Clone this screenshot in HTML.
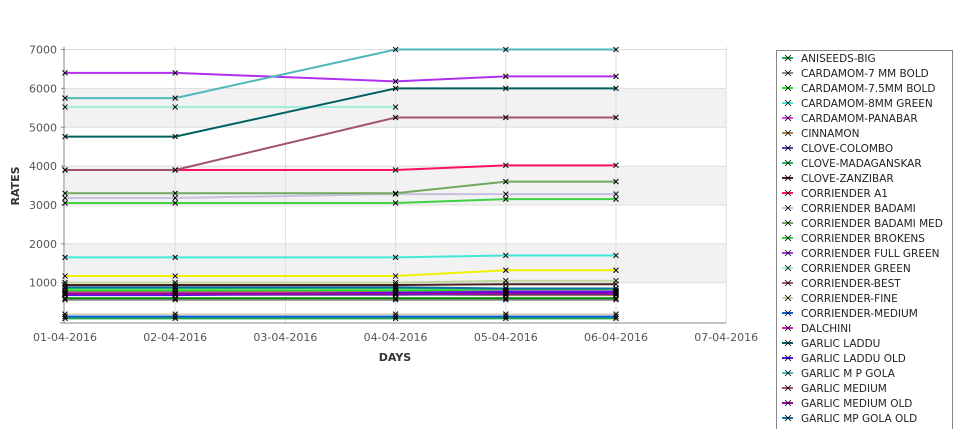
<!DOCTYPE html>
<html><head><meta charset="utf-8">
<style>
html,body{margin:0;padding:0;background:#fff;}
body{width:975px;height:429px;overflow:hidden;font-family:"Liberation Sans","DejaVu Sans",sans-serif;}
svg text{font-family:"DejaVu Sans","Liberation Sans",sans-serif;}
</style></head>
<body>
<svg id="chart" width="975" height="429" xmlns="http://www.w3.org/2000/svg"></svg>
<script>
const categories = ["01-04-2016","02-04-2016","03-04-2016","04-04-2016","05-04-2016","06-04-2016","07-04-2016"];
const pointDays = [0,1,3,4,5];
const yTicks = [1000,2000,3000,4000,5000,6000,7000];
const seriesNames = ["ANISEEDS-BIG","CARDAMOM-7 MM BOLD","CARDAMOM-7.5MM BOLD","CARDAMOM-8MM GREEN","CARDAMOM-PANABAR","CINNAMON","CLOVE-COLOMBO","CLOVE-MADAGANSKAR","CLOVE-ZANZIBAR","CORRIENDER A1","CORRIENDER BADAMI","CORRIENDER BADAMI MED","CORRIENDER BROKENS","CORRIENDER FULL GREEN","CORRIENDER GREEN","CORRIENDER-BEST","CORRIENDER-FINE","CORRIENDER-MEDIUM","DALCHINI","GARLIC LADDU","GARLIC LADDU OLD","GARLIC M P GOLA","GARLIC MEDIUM","GARLIC MEDIUM OLD","GARLIC MP GOLA OLD","JEERA","KALONJI","METHI"];
const seriesColors = ["#1fa84a","#8a8a8a","#22dd22","#40e8d8","#e040e0","#b08840","#5040b0","#20c060","#4a2020","#ff1060","#c8c0e0","#70a860","#40d040","#b030f0","#a0f0d8","#b05070","#c0d8a0","#1060e0","#d020c0","#006060","#5010f0","#50b8b8","#a05070","#a000a0","#1070a0","#f0f000","#008800","#e0d8c0"];
const s0=[80,80,80,80,80];
const s1=[560,560,560,560,560];
const s2=[800,800,800,800,800];
const s3=[1650,1650,1650,1700,1700];
const s4=[740,740,740,780,780];
const s5=[700,700,700,680,680];
const s6=[690,690,690,700,700];
const s7=[860,860,860,850,850];
const s8=[940,940,940,960,960];
const s9=[3900,3900,3900,4020,4020];
const s10=[3180,3180,3280,3280,3280];
const s11=[3300,3300,3300,3600,3600];
const s12=[3050,3050,3050,3150,3150];
const s13=[6400,6400,6180,6310,6310];
const s14=[5520,5520,5520,null,null];
const s15=[750,750,750,750,750];
const s16=[1000,1000,1000,1050,1050];
const s17=[130,130,130,130,130];
const s18=[720,720,720,760,760];
const s19=[4760,4760,6000,6000,6000];
const s20=[680,680,740,760,760];
const s21=[5750,5750,7000,7000,7000];
const s22=[3900,3900,5250,5250,5250];
const s23=[710,710,710,720,720];
const s24=[880,880,880,850,850];
const s25=[1170,1170,1170,1320,1320];
const s26=[600,600,600,600,600];
const s27=[190,190,190,190,190];
const seriesValues=[s0,s1,s2,s3,s4,s5,s6,s7,s8,s9,s10,s11,s12,s13,s14,s15,s16,s17,s18,s19,s20,s21,s22,s23,s24,s25,s26,s27];
const legendCount = 25;

const NS="http://www.w3.org/2000/svg";
const svg=document.getElementById('chart');
const X0=65,XSTEP=110.2,Y0=321.5,YPER=0.03885;
function xs(i){return X0+i*XSTEP;}
function ys(v){return Y0-v*YPER;}
function mk(tag,attrs,parent){const e=document.createElementNS(NS,tag);for(const k in attrs)e.setAttribute(k,attrs[k]);(parent||svg).appendChild(e);return e;}

const plotTop=ys(7070), plotBottom=323, plotRight=xs(6);
[1000,3000,5000].forEach(v=>{
  const r=mk('rect',{x:X0,y:ys(v+1000),width:plotRight-X0,height:ys(v)-ys(v+1000),fill:'#f2f2f2'});
  
  
});
yTicks.forEach(v=>{
  const l=mk('line',{x1:X0,x2:plotRight,y1:ys(v),y2:ys(v),stroke:'#dddddd','stroke-width':1});
  
  
  const t=mk('text',{x:57,y:ys(v)+4,'text-anchor':'end','font-size':11,fill:'#555'});
  t.textContent=v;
  
  
  mk('line',{x1:61,x2:65,y1:ys(v),y2:ys(v),stroke:'#888'});
});
categories.forEach((c,i)=>{
  if(i>0){const l=mk('line',{x1:xs(i),x2:xs(i),y1:plotTop,y2:plotBottom,stroke:'#dddddd','stroke-width':1});
  
  }
  const t=mk('text',{x:xs(i),y:341,'text-anchor':'middle','font-size':11,fill:'#555'});
  t.textContent=c;
  
  
});
const ya=mk('line',{x1:X0-1,x2:X0-1,y1:plotTop,y2:plotBottom,stroke:'#888'});


const xa=mk('line',{x1:60,x2:plotRight,y1:plotBottom,y2:plotBottom,stroke:'#888'});


const yt=mk('text',{x:19,y:186,'text-anchor':'middle','font-size':11,'font-weight':'bold',fill:'#333',transform:'rotate(-90 19 186)'});
yt.textContent='RATES';


const xt=mk('text',{x:395,y:361,'text-anchor':'middle','font-size':11,'font-weight':'bold',fill:'#333'});
xt.textContent='DAYS';



const markers=[];
seriesValues.forEach((vals,si)=>{
  const g=mk('g',{});
  
  
  let d='';let pen=false;
  vals.forEach((v,i)=>{
    if(v===null){pen=false;return;}
    d+=(pen?'L':'M')+xs(pointDays[i])+' '+ys(v)+' ';pen=true;
    markers.push([xs(pointDays[i]),ys(v)]);
  });
  const p=mk('path',{d:d,fill:'none',stroke:seriesColors[si],'stroke-width':2},g);
  
  
});
const mg=mk('g',{stroke:'#000','stroke-width':1});


markers.forEach(([x,y])=>{
  mk('path',{d:`M${x-2.5} ${y-2.5}L${x+2.5} ${y+2.5}M${x-2.5} ${y+2.5}L${x+2.5} ${y-2.5}`},mg);
});

const lg=mk('g',{});


mk('rect',{x:776.5,y:50.5,width:176,height:400,fill:'#fff',stroke:'#888'},lg);
for(let i=0;i<legendCount;i++){
  const y=58+i*15;
  const e=mk('g',{},lg);
  
  
  mk('line',{x1:782,x2:793,y1:y,y2:y,stroke:seriesColors[i],'stroke-width':2},e);
  mk('path',{d:`M785 ${y-3}L791 ${y+3}M785 ${y+3}L791 ${y-3}`,stroke:'#000','stroke-width':0.8},e);
  const t=mk('text',{x:801,y:y+4,'font-size':10.5,fill:'#222'},e);
  t.textContent=seriesNames[i];
}
</script>
</body></html>
